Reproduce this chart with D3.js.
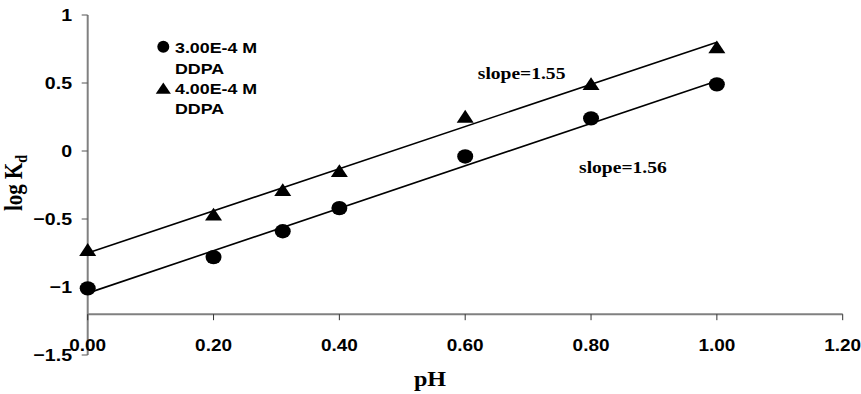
<!DOCTYPE html>
<html>
<head>
<meta charset="utf-8">
<script src="https://cdn.jsdelivr.net/npm/d3@7"></script>
<style>
  html, body { margin: 0; padding: 0; background: #fff; }
  svg { display: block; }
</style>
</head>
<body>
<svg id="chart" width="861" height="394"></svg>
<script>
// ---- data ----
const pH = [0.00, 0.20, 0.31, 0.40, 0.60, 0.80, 1.00];
const logKd_3e4 = [-1.01, -0.78, -0.59, -0.42, -0.04, 0.24, 0.49];
const logKd_4e4 = [-0.74, -0.48, -0.30, -0.16, 0.24, 0.48, 0.75];
const fitX = [0.00, 1.00];
const fit_3e4 = [-1.045, 0.515];
const fit_4e4 = [-0.75, 0.80];
const xTicks = [0, 0.2, 0.4, 0.6, 0.8, 1.0, 1.2];
const yTicks = [-1.5, -1, -0.5, 0, 0.5, 1];
const seriesNames = ["3.00E-4 M", "4.00E-4 M"];
const slopeLabels = ["slope=1.55", "slope=1.56"];
const slopeAt = [[0.62, 0.527], [0.781, -0.165]];

const SX = 1.15; // horizontal stretch of the original picture

const svg = d3.select("#chart");
const x = d3.scaleLinear().domain([0, 1.2]).range([87.7, 842.7]);
const y = d3.scaleLinear().domain([-1.5, 1]).range([355, 15]);
const xCross = -1.2;

// axes lines
const axisG = svg.append("g");
axisG.append("line")
  .attr("x1", x(0)).attr("x2", x(0))
  .attr("y1", y(1)).attr("y2", y(-1.5))
  .attr("stroke", "#808080").attr("stroke-width", 2);
axisG.append("line")
  .attr("x1", x(0)).attr("x2", x(1.2))
  .attr("y1", y(xCross)).attr("y2", y(xCross))
  .attr("stroke", "#808080").attr("stroke-width", 2);

// y ticks
axisG.selectAll(".ytick").data(yTicks).enter().append("line")
  .attr("x1", x(0) - 6).attr("x2", x(0))
  .attr("y1", d => y(d)).attr("y2", d => y(d))
  .attr("stroke", "#555").attr("stroke-width", 1);
// x ticks
axisG.selectAll(".xtick").data(xTicks).enter().append("line")
  .attr("x1", d => x(d)).attr("x2", d => x(d))
  .attr("y1", y(xCross)).attr("y2", y(xCross) + 6)
  .attr("stroke", "#333").attr("stroke-width", 1);

const fmtY = d => (d === 0 ? "0" : d3.format("")(d));
axisG.selectAll(".ylab").data(yTicks).enter().append("text")
  .attr("transform", d => `translate(72,${y(d) + 6}) scale(${SX},1)`)
  .attr("text-anchor", "end")
  .style("font-family", "'Liberation Sans', Arial, sans-serif")
  .style("font-weight", "bold").style("font-size", "17px")
  .text(fmtY);

axisG.selectAll(".xlab").data(xTicks).enter().append("text")
  .attr("transform", d => `translate(${x(d)},${351}) scale(${SX},1)`)
  .attr("text-anchor", "middle")
  .style("font-family", "'Liberation Sans', Arial, sans-serif")
  .style("font-weight", "bold").style("font-size", "16.5px")
  .text(d => d3.format(".2f")(d));

// axis titles
svg.append("text")
  .attr("transform", `translate(430,386) scale(${SX},1)`)
  .attr("text-anchor", "middle")
  .style("font-family", "'Liberation Serif', 'Times New Roman', serif")
  .style("font-weight", "bold").style("font-size", "21px")
  .text("pH");

const yt = svg.append("text")
  .attr("transform", `translate(22,183) scale(${SX},1) rotate(-90)`)
  .attr("text-anchor", "middle")
  .style("font-family", "'Liberation Serif', 'Times New Roman', serif")
  .style("font-weight", "bold").style("font-size", "21px");
yt.append("tspan").text("log K");
yt.append("tspan").attr("dy", 4).style("font-size", "14px").text("d");

// fit lines
const line = d3.line().x(d => x(d[0])).y(d => y(d[1]));
[fit_3e4, fit_4e4].forEach(f => {
  svg.append("path")
    .datum(fitX.map((v, i) => [v, f[i]]))
    .attr("d", line)
    .attr("fill", "none").attr("stroke", "#000").attr("stroke-width", 1.6);
});

// markers
const tri = d3.symbol().type(d3.symbolTriangle).size(95);
svg.selectAll(".circ").data(pH.map((v, i) => [v, logKd_3e4[i]])).enter()
  .append("ellipse")
  .attr("cx", d => x(d[0])).attr("cy", d => y(d[1]))
  .attr("rx", 8).attr("ry", 7.2).attr("fill", "#000");
svg.selectAll(".tri").data(pH.map((v, i) => [v, logKd_4e4[i]])).enter()
  .append("path")
  .attr("d", tri)
  .attr("transform", d => `translate(${x(d[0])},${y(d[1])}) scale(${SX},1)`)
  .attr("fill", "#000");

// slope labels
svg.selectAll(".slope").data(slopeLabels).enter().append("text")
  .attr("transform", (d, i) => `translate(${x(slopeAt[i][0])},${y(slopeAt[i][1])}) scale(${SX},1)`)
  .style("font-family", "'Liberation Serif', 'Times New Roman', serif")
  .style("font-weight", "bold").style("font-size", "17px")
  .text(d => d);

// legend
const lg = svg.append("g");
const legFont = g => g.style("font-family", "'Liberation Sans', Arial, sans-serif")
  .style("font-weight", "bold").style("font-size", "15.5px");
lg.append("circle").attr("cx", 163.3).attr("cy", 46.7).attr("r", 6).attr("fill", "#000");
lg.append("path").attr("d", d3.symbol().type(d3.symbolTriangle).size(75))
  .attr("transform", `translate(163.3,90) scale(${SX},1)`).attr("fill", "#000");
const legLines = [[seriesNames[0], 53.3], ["DDPA", 74], [seriesNames[1], 94.3], ["DDPA", 114.3]];
legLines.forEach(([t, yy]) => {
  lg.append("text").attr("transform", `translate(175,${yy}) scale(${SX},1)`)
    .call(legFont).text(t);
});
</script>
</body>
</html>
